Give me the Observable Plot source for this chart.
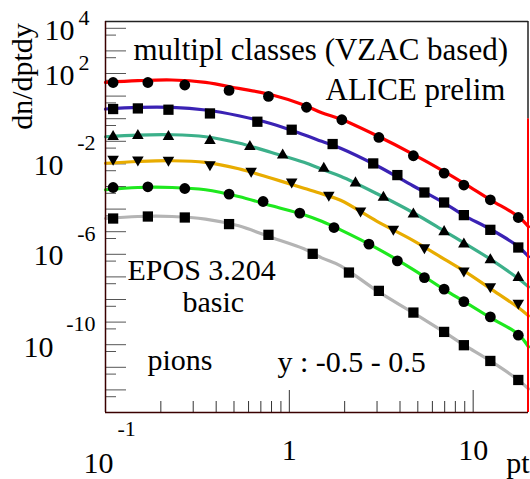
<!DOCTYPE html>
<html>
<head>
<meta charset="utf-8">
<script src="https://cdn.jsdelivr.net/npm/d3@7"></script>
<script src="https://cdn.jsdelivr.net/npm/@observablehq/plot@0.6"></script>
<style>
  html, body { margin: 0; padding: 0; background: white; }
  svg { display: block; }
</style>
</head>
<body>
<div id="chart"></div>
<script>
// ---- model curves (EPOS), common pt grid ----
const curvePt = [0.1, 0.15, 0.23, 0.35, 0.53, 0.8, 1.2, 1.5, 1.9, 3, 4.7, 7, 9, 12.4, 17.6, 20];
const redCurve = [4.04, 4.81, 5.16, 4.04, 2.19, 1.15, 0.404, 0.184, 0.0968, 0.0176, 2.73e-3, 4.49e-4, 1.32e-4, 2.58e-5, 4.7e-6, 1.64e-6];
const blueCurve = [0.268, 0.316, 0.316, 0.242, 0.1355, 0.06, 0.0195, 9.96e-3, 4.93e-3, 8.28e-4, 1.08e-4, 1.81e-5, 5.05e-6, 1.3e-6, 2.21e-7, 7.73e-8];
const tealCurve = [0.0159, 0.0189, 0.0195, 0.0159, 8.38e-3, 3.21e-3, 1.18e-3, 5.79e-4, 2.84e-4, 4.76e-5, 7.07e-6, 1.04e-6, 3.06e-7, 6.11e-8, 8.44e-9, 3.62e-9];
const orangeCurve = [1.07e-3, 1.28e-3, 1.38e-3, 1.16e-3, 6.09e-4, 2.31e-4, 8.34e-5, 4.76e-5, 2.45e-5, 2.88e-6, 4.15e-7, 5.98e-8, 1.76e-8, 3.05e-9, 4.39e-10, 1.88e-10];
const greenCurve = [7.16e-5, 9.05e-5, 9.05e-5, 7.16e-5, 3.61e-5, 1.40e-5, 5.6e-6, 2.88e-6, 1.21e-6, 1.84e-7, 2.16e-8, 2.67e-9, 7.85e-10, 1.58e-10, 2.91e-11, 7.98e-12];
const grayCurve = [3.84e-6, 4.7e-6, 4.7e-6, 3.61e-6, 1.82e-6, 5.52e-7, 1.75e-7, 6.97e-8, 3.08e-8, 2.41e-9, 2.64e-10, 3.5e-11, 9.29e-12, 1.91e-12, 2.75e-13, 1.1e-13];

// ---- ALICE preliminary points ----
const redX = [0.11, 0.17, 0.27, 0.47, 0.77, 1.24, 1.93, 3.07, 4.73, 6.95, 8.9, 12.4, 17.6];
const redY = [4.0, 4.0, 3.1, 1.79, 0.97, 0.322, 0.090, 0.0148, 2.3e-3, 3.93e-4, 1.16e-4, 2.58e-5, 4.25e-6];
const blueX = [0.11, 0.15, 0.22, 0.37, 0.67, 1.03, 1.72, 2.86, 3.87, 5.43, 6.95, 8.9, 12.4, 17.6];
const blueY = [0.268, 0.285, 0.25, 0.171, 0.0735, 0.0325, 7.56e-3, 1.05e-3, 3.2e-4, 5.43e-5, 1.96e-5, 5.42e-6, 1.21e-6, 2.0e-7];
const tealX = [0.11, 0.15, 0.22, 0.37, 0.61, 0.92, 1.54, 2.29, 3.25, 4.73, 6.95, 8.9, 12.4, 17.6];
const tealY = [0.0159, 0.0176, 0.0159, 0.0106, 5.74e-3, 2.46e-3, 6.28e-4, 1.42e-4, 3.26e-5, 6.0e-6, 9.9e-7, 2.82e-7, 5.69e-8, 9.35e-9];
const orangeX = [0.11, 0.15, 0.22, 0.37, 0.62, 1.03, 1.64, 2.44, 3.68, 5.43, 8.9, 12.4, 17.6];
const orangeY = [1.64e-3, 1.52e-3, 1.48e-3, 9.4e-4, 4.82e-4, 1.62e-4, 4.17e-5, 8.4e-6, 1.3e-6, 2.0e-7, 1.85e-8, 3.73e-9, 6.87e-10];
const greenX = [0.11, 0.17, 0.27, 0.47, 0.72, 1.14, 1.75, 2.71, 3.87, 5.43, 6.95, 8.9, 12.4, 17.6];
const greenY = [9.05e-5, 9.7e-5, 8.17e-5, 4.62e-5, 2.17e-5, 6.65e-6, 1.53e-6, 2.82e-7, 5.13e-8, 9.35e-9, 2.86e-9, 8.1e-10, 1.7e-10, 2.63e-11];
const grayX = [0.11, 0.17, 0.27, 0.47, 0.77, 1.34, 2.11, 3.07, 4.73, 6.95, 8.9, 12.4, 17.6];
const grayY = [3.83e-6, 4.7e-6, 4.25e-6, 2.17e-6, 7.27e-7, 1.05e-7, 1.56e-8, 2.41e-9, 2.64e-10, 3.68e-11, 9.5e-12, 1.91e-12, 2.75e-13];

// ---- axis ticks and labels ----
const yMajorTicks = [1e-13, 1e-12, 1e-11, 1e-10, 1e-9, 1e-8, 1e-7, 1e-6, 1e-5, 1e-4, 1e-3, 1e-2, 1e-1, 1, 10, 100, 1000];
const yMinorTicks = [5e-14, 5e-13, 5e-12, 5e-11, 5e-10, 5e-9, 5e-8, 5e-7, 5e-6, 5e-5, 5e-4, 5e-3, 5e-2, 0.5, 5, 50, 500];
const xMajorTicks = [1, 10];
const xMinorTicks = [0.2, 0.3, 0.4, 0.5, 0.6, 0.7, 0.8, 0.9, 2, 3, 4, 5, 6, 7, 8, 9];
const yTickExponents = ["4", "2", "-2", "-6", "-10"];
const yTickLabelAt = [3000, 30, 1e-2, 1e-6, 1e-10];
const xTickLabels = ["1", "10"];
const xTickLabelAt = [1, 10];

const seriesColors = ["#ff0000", "#3a22b4", "#3cb08a", "#e8ac00", "#1ee81e", "#b4b4b4"];
const curves = [redCurve, blueCurve, tealCurve, orangeCurve, greenCurve, grayCurve];
const pointsX = [redX, blueX, tealX, orangeX, greenX, grayX];
const pointsY = [redY, blueY, tealY, orangeY, greenY, grayY];
const symbols = ["circle", "square", "triangle", "triangle", "circle", "square"];
const symbolRotate = [0, 0, 0, 180, 0, 0];
const symbolR = [5.4, 5.8, 4.3, 4.3, 5.4, 5.8];

const font = "Liberation Serif, Times New Roman, serif";
const marks = [];

// inward ticks
marks.push(Plot.axisY(yMajorTicks, {anchor: "left", tickSize: -21, tickFormat: () => "", stroke: "#555", label: null}));
marks.push(Plot.axisY(yMinorTicks, {anchor: "left", tickSize: -11, tickFormat: () => "", stroke: "#555", label: null}));
marks.push(Plot.axisX(xMajorTicks, {anchor: "bottom", tickSize: -22, tickFormat: () => "", stroke: "#333", label: null}));
marks.push(Plot.axisX(xMinorTicks, {anchor: "bottom", tickSize: -11, tickFormat: () => "", stroke: "#333", label: null}));

// curves then points
curves.forEach((c, i) => {
  marks.push(Plot.line(curvePt.map((p, j) => ({pt: p, v: c[j]})), {x: "pt", y: "v", stroke: seriesColors[i], strokeWidth: 3.2, curve: "catmull-rom"}));
});
pointsX.forEach((xs, i) => {
  marks.push(Plot.dot(xs.map((p, j) => ({pt: p, v: pointsY[i][j]})), {x: "pt", y: "v", symbol: symbols[i], r: symbolR[i], rotate: symbolRotate[i], fill: "black", stroke: "none"}));
});

// red vertical artefact at the right edge
marks.push(Plot.ruleX([20], {y1: 1e-14, y2: 0.1, stroke: "#ff0000", strokeWidth: 2, dx: -0.5}));

// frame
marks.push(Plot.ruleY([2000], {stroke: "#222", strokeWidth: 1.5}));
marks.push(Plot.ruleX([20], {y1: 0.1, y2: 2000, stroke: "#222", strokeWidth: 1.5, dx: -0.5}));
marks.push(Plot.ruleX([0.1], {stroke: "#3a0000", strokeWidth: 1.5}));
marks.push(Plot.ruleY([1e-14], {stroke: "#3a0000", strokeWidth: 1.5}));

const T = {fontFamily: font, fill: "black", lineAnchor: "middle"};

// y tick labels (10 + exponent)
const yLabelData = yTickExponents.map((e, i) => ({e, v: yTickLabelAt[i]}));
const posLabels = yLabelData.slice(0, 2), negLabels = yLabelData.slice(2);
marks.push(Plot.text(posLabels, {...T, y: "v", text: "e", frameAnchor: "left", textAnchor: "start", dx: -27, fontSize: 22}));
marks.push(Plot.text(posLabels, {...T, y: "v", text: () => "10", frameAnchor: "left", textAnchor: "end", dx: -31, dy: 13, fontSize: 30}));
marks.push(Plot.text(negLabels, {...T, y: "v", text: "e", frameAnchor: "left", textAnchor: "end", dx: -10, dy: 2, fontSize: 22}));
marks.push(Plot.text(negLabels.slice(0, 2), {...T, y: "v", text: () => "10", frameAnchor: "left", textAnchor: "end", dx: -42, dy: 24, fontSize: 30}));
marks.push(Plot.text(negLabels.slice(2), {...T, y: "v", text: () => "10", frameAnchor: "left", textAnchor: "end", dx: -52, dy: 25, fontSize: 30}));

// x tick labels
marks.push(Plot.text(xTickLabelAt.map((v, i) => ({v, t: xTickLabels[i]})), {...T, x: "v", text: "t", frameAnchor: "bottom", dy: 38, fontSize: 30}));
marks.push(Plot.text(["10"], {...T, x: () => 0.1, text: d => d, frameAnchor: "bottom", textAnchor: "end", dx: 8, dy: 51, fontSize: 30}));
marks.push(Plot.text(["-1"], {...T, x: () => 0.1, text: d => d, frameAnchor: "bottom", textAnchor: "start", dx: 12, dy: 16, fontSize: 22}));
marks.push(Plot.text(["pt"], {...T, x: () => 20, text: d => d, frameAnchor: "bottom", textAnchor: "end", dx: 1, dy: 51, fontSize: 30}));

// y axis title
marks.push(Plot.text(["dn/dptdy"], {...T, text: d => d, frameAnchor: "top-left", rotate: -90, textAnchor: "middle", dx: -83, dy: 55, fontSize: 30}));

// annotations
const notes = [
  {t: "multipl classes (VZAC based)", dx: 28, dy: 29, s: 31},
  {t: "ALICE prelim", dx: 220, dy: 69, s: 31},
  {t: "EPOS 3.204", dx: 22, dy: 249, s: 30},
  {t: "basic", dx: 77, dy: 281, s: 30},
  {t: "pions", dx: 42, dy: 339, s: 30},
  {t: "y : -0.5 - 0.5", dx: 172, dy: 341, s: 30}
];
notes.forEach(n => marks.push(Plot.text([n.t], {...T, text: d => d, frameAnchor: "top-left", textAnchor: "start", dx: n.dx, dy: n.dy, fontSize: n.s})));

const chart = Plot.plot({
  width: 530,
  height: 479,
  marginLeft: 105,
  marginRight: 2,
  marginTop: 21,
  marginBottom: 67,
  x: {type: "log", domain: [0.1, 20], axis: null},
  y: {type: "log", domain: [1e-14, 2000], axis: null},
  style: {fontFamily: font, background: "white", overflow: "visible"},
  marks
});
document.getElementById("chart").appendChild(chart);
</script>
</body>
</html>
